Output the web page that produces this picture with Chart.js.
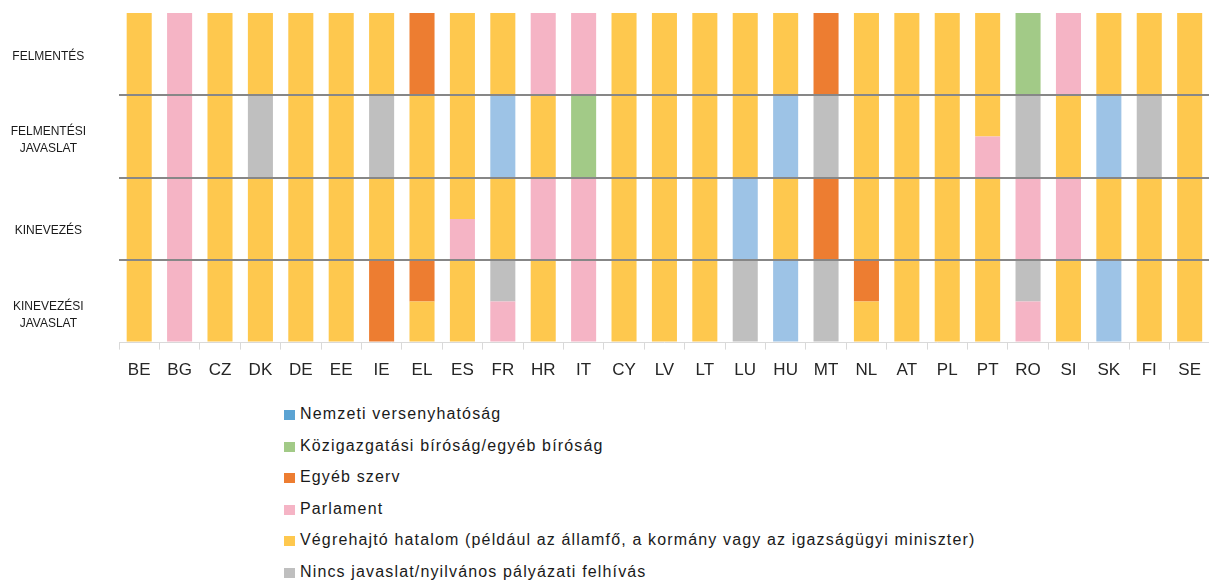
<!DOCTYPE html>
<html>
<head>
<meta charset="utf-8">
<script src="https://cdn.jsdelivr.net/npm/chart.js@4"></script>
<style>
  body { margin: 0; background: #fff; width: 1209px; height: 580px; overflow: hidden; font-family: 'Liberation Sans', Arial, sans-serif; }
  #wrap { position: absolute; left: 0; top: 0; width: 1212px; height: 392px; }
  #legend { position: absolute; left: 284px; top: 398px; margin: 0; padding: 0; list-style: none; }
  #legend li { height: 31.5px; line-height: 31.5px; font-size: 16px; color: #1a1a1a; letter-spacing: 1.15px; white-space: nowrap; }
  #legend .box { display: inline-block; width: 11px; height: 10px; margin-right: 5px; vertical-align: -1px; }
</style>
</head>
<body>
<div id="wrap"><canvas id="chart"></canvas></div>
<ul id="legend"></ul>
<script>
// tagállamok
const countries = ['BE','BG','CZ','DK','DE','EE','IE','EL','ES','FR','HR','IT','CY','LV','LT','LU','HU','MT','NL','AT','PL','PT','RO','SI','SK','FI','SE']

// Y = végrehajtó, P = parlament, O = egyéb szerv, G = bíróság, B = versenyhatóság, N = nincs
// két betű = a szakasz alsó és felső fele
const kinevezesiJavaslat = ['Y','P','Y','Y','Y','Y','O','YO','Y','PN','Y','P','Y','Y','Y','N','B','N','YO','Y','Y','Y','PN','Y','B','Y','Y']
const kinevezes          = ['Y','P','Y','Y','Y','Y','Y','Y','PY','Y','P','P','Y','Y','Y','B','Y','O','Y','Y','Y','Y','P','P','Y','Y','Y']
const felmentesiJavaslat = ['Y','P','Y','N','Y','Y','N','Y','Y','B','Y','G','Y','Y','Y','Y','B','N','Y','Y','Y','PY','N','Y','B','N','Y']
const felmentes          = ['Y','P','Y','Y','Y','Y','Y','O','Y','Y','P','P','Y','Y','Y','Y','Y','O','Y','Y','Y','Y','G','P','Y','Y','Y']

const levels = [kinevezesiJavaslat, kinevezes, felmentesiJavaslat, felmentes]
const levelLabels = ['KINEVEZÉSI\nJAVASLAT', 'KINEVEZÉS', 'FELMENTÉSI\nJAVASLAT', 'FELMENTÉS']

const legendCodes = ['B','G','O','P','Y','N']
const legendNames = ['Nemzeti versenyhatóság','Közigazgatási bíróság/egyéb bíróság','Egyéb szerv','Parlament','Végrehajtó hatalom (például az államfő, a kormány vagy az igazságügyi miniszter)','Nincs javaslat/nyilvános pályázati felhívás']

const barColors = { Y: '#fec84e', P: '#f5b4c5', O: '#ed7d31', G: '#a2ca87', B: '#9dc3e6', N: '#bfbfbf' }
const swatchColors = { Y: '#fec84e', P: '#f5b4c5', O: '#ed7d31', G: '#a2ca87', B: '#5ba3d3', N: '#bfbfbf' }

// a címkék közepe nem pontosan a szakasz közepén van
const labelPos = [0.33, 1.36, 2.46, 3.47]

let datasets = []
levels.forEach(function(codes, i){
    datasets.push({
        label: 'level' + i + 'a',
        data: codes.map(c => c.length == 2 ? 0.5 : 1),
        backgroundColor: codes.map(c => barColors[c[0]])
    })
    datasets.push({
        label: 'level' + i + 'b',
        data: codes.map(c => c.length == 2 ? 0.5 : 0),
        backgroundColor: codes.map(c => barColors[c[c.length - 1]])
    })
})

let legendList = document.getElementById('legend')
legendCodes.forEach(function(code, i){
    let li = document.createElement('li')
    let box = document.createElement('span')
    box.className = 'box'
    box.style.background = swatchColors[code]
    li.appendChild(box)
    li.appendChild(document.createTextNode(legendNames[i]))
    legendList.appendChild(li)
})

let chart = new Chart(document.getElementById('chart'), {
    type: 'bar',
    data: {
        labels: countries,
        datasets: datasets
    },
    options: {
        responsive: true,
        maintainAspectRatio: false,
        animation: false,
        layout: { padding: { top: 13, right: 0, bottom: 0, left: 0 } },
        datasets: { bar: { barPercentage: 0.62, categoryPercentage: 1, borderWidth: 0 } },
        plugins: { legend: { display: false }, tooltip: { enabled: false } },
        scales: {
            x: {
                stacked: true,
                grid: { drawOnChartArea: false, tickLength: 7, color: '#d9d9d9' },
                border: { color: '#d9d9d9' },
                ticks: { color: '#262626', padding: 11, font: { family: "'Liberation Sans', Arial, sans-serif", size: 17 } }
            },
            y: {
                stacked: true,
                min: 0,
                max: 4,
                afterFit: function(scale){ scale.width = 119 },
                afterBuildTicks: function(scale){
                    let vals = [0, 1, 2, 3, 4].concat(labelPos).sort((a, b) => a - b)
                    scale.ticks = vals.map(v => ({ value: v }))
                },
                grid: {
                    z: 1,
                    drawTicks: true,
                    tickLength: 33,
                    tickColor: 'rgba(0,0,0,0)',
                    lineWidth: 2,
                    color: function(ctx){
                        let v = ctx.tick && ctx.tick.value
                        return (v === 1 || v === 2 || v === 3) ? '#878787' : 'rgba(0,0,0,0)'
                    }
                },
                border: { display: false },
                ticks: {
                    autoSkip: false,
                    crossAlign: 'center',
                    padding: 0,
                    color: '#1a1a1a',
                    font: { family: "'Liberation Sans', Arial, sans-serif", size: 12, lineHeight: 1.4 },
                    callback: function(value){
                        let i = labelPos.indexOf(value)
                        return i < 0 ? '' : levelLabels[i].split('\n')
                    }
                }
            }
        }
    }
})
</script>
</body>
</html>
